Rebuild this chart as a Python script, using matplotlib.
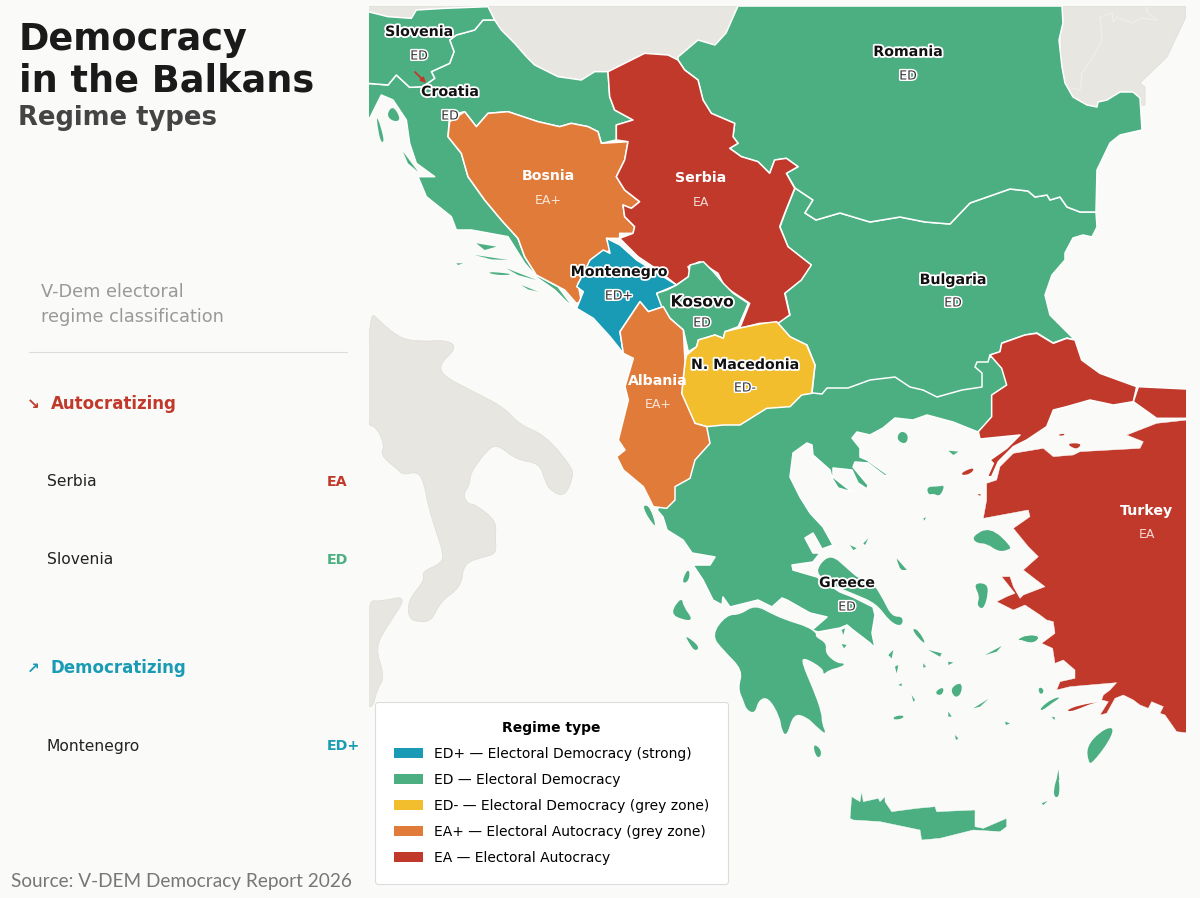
import matplotlib
matplotlib.use("Agg")
import matplotlib.pyplot as plt
import matplotlib.patheffects as pe
from matplotlib.patches import Patch, PathPatch, Polygon, Rectangle
from matplotlib.path import Path

# ---- colours by regime
REGIME_CODES = ["ED+", "ED", "ED-", "EA+", "EA"]
REGIME_NAMES = ["Electoral Democracy (strong)", "Electoral Democracy", "Electoral Democracy (grey zone)",
                "Electoral Autocracy (grey zone)", "Electoral Autocracy"]
REGIME_COLORS = ["#1A9BB5", "#4CAF82", "#F2BE2E", "#E07B39", "#C0392B"]
COLOR = dict(zip(REGIME_CODES, REGIME_COLORS))
BG = "#FAFAF8"
GREY = "#E8E6E1"

# ---- country labels: name, regime, label position on the map
countries = ["Slovenia", "Croatia", "Romania", "Bosnia", "Serbia", "Montenegro", "Kosovo", "Bulgaria",
             "N. Macedonia", "Albania", "Greece", "Turkey"]
regimes = ["ED", "ED", "ED", "EA+", "EA", "ED+", "ED", "ED", "ED-", "EA+", "ED", "EA"]
label_x = [419, 450, 908, 548, 701, 619, 702, 953, 745, 658, 847, 1147]
label_y = [32, 92, 52, 176, 178, 272, 302, 280, 365, 381, 583, 511]
tag_y = [56, 116, 76, 200, 202, 296, 323, 303, 388, 404, 607, 535]

# ---- outlines, in picture pixels or in pixel frames of an enlarged view
Z1 = (368, 0); Z2 = (560, 230); Z3 = (780, 320); Z4 = (640, 500); Z7 = (360, 300); Z8 = (1020, 600)

slovenia = [(0,35),(60,50),(130,55),(145,30),(230,25),(360,20),(380,60),(345,60),(320,90),(265,105),(245,120),(258,155),
            (245,190),(190,215),(200,235),(165,260),(125,262),(85,225),(60,255),(0,250)]
croatia = [(-5,250),(60,255),(85,225),(125,262),(165,260),(200,235),(190,215),(245,190),(258,155),(245,120),(265,105),(320,90),
           (345,60),(380,60),(400,90),(440,130),(475,170),(500,195),(570,230),(640,240),(680,215),(720,215),(725,290),(740,330),
           (795,360),(745,375),(745,420),(700,430),(690,395),(660,380),(610,370),(575,380),(510,365),(420,335),(360,340),(325,380),
           (290,335),(245,345),(240,410),(280,460),(300,530),(350,600),(400,660),(450,715),(470,770),(505,825),(570,860),(600,900),
           (622,925),(595,905),(560,870),(510,835),(470,790),(420,710),(310,690),(265,690),(250,650),(175,590),(150,530),(200,530),
           (145,490),(125,430),(115,360),(75,300),(40,285),(5,355),(-5,355)]
bosnia = [(290,335),(325,380),(360,340),(420,335),(510,365),(575,380),(610,370),(660,380),(690,395),(700,430),(780,425),(770,480),
          (745,530),(770,570),(815,605),(790,625),(765,615),(770,650),(800,680),(795,700),(755,700),(755,715),(715,715),(730,750),
          (680,770),(660,810),(630,850),(640,905),(625,910),(590,870),(505,825),(470,770),(450,715),(400,660),(350,600),(300,530),
          (280,460),(240,410),(245,365)]
serbia_east = [(720,215),(770,190),(830,160),(900,165),(930,180),(950,210),(990,240),(1005,300),(1030,340),(1100,370),(1095,410),
               (1110,430),(1085,445),(1120,470),(1170,485),(1205,520),(1220,480),(1255,475),(1290,500),(1255,520),(1280,565)]
serbia_rest = [(1250,640),(1235,680),(1260,740),(1330,795),(1300,840),(1250,880),(1265,945),(1230,970),(1175,970),(1115,985),(1145,910),(1070,860),
               (1050,820),(995,785),(960,800),(970,825),(925,855),(870,810),(810,770),(755,715),(795,700),(800,680),(770,650),(765,615),
               (790,625),(815,605),(770,570),(745,530),(770,480),(780,425),(745,420),(745,375),(795,360),(740,330),(725,290)]
montenegro = [(140,25),(180,45),(230,90),(350,165),(290,190),(310,230),(265,245),(240,215),(180,305),(190,370),(150,320),(100,265),
              (50,235),(70,185),(50,170),(90,90),(130,60),(150,70)]
kosovo = [(350,165),(385,140),(390,105),(430,95),(460,125),(490,160),(520,190),(565,220),(535,290),(495,305),(490,325),(465,315),
          (415,330),(410,350),(385,365),(370,300),(330,265),(305,230),(290,190),(320,180)]
macedonia = [(380,375),(410,350),(415,330),(465,315),(490,325),(495,305),(535,295),(610,280),(650,275),(690,320),(740,345),(765,405),
             (755,490),(725,495),(690,530),(620,535),(540,585),(490,585),(440,590),(405,580),(370,510),(365,490),(375,395)]
albania = [(240,215),(265,245),(310,230),(330,265),(370,300),(375,395),(365,490),(405,580),(440,590),(450,640),(405,690),(390,745),
           (345,770),(345,810),(320,835),(280,830),(250,770),(190,720),(170,680),(195,660),(175,630),(205,510),(195,470),(220,385),
           (190,370),(180,305)]
romania = [(738,6),(1062,6),(1063,23),(1059,40),(1062,67),(1065,83),(1073,97),(1087,105),(1097,107),(1098,102),(1107,100),(1120,92),
           (1133,92),(1140,98),(1142,130),(1120,135),(1110,143),(1097,170),(1096,212),(1080,212),(1067,207),(1060,197),(1050,200),
           (1047,195),(1035,197),(1028,191),(1010,189),(970,203),(950,224),(925,222),(900,217),(870,222),(840,213),(816,220),(805,213),
           (813,200),(795,188)]
romania_west = [(678,57),(698,40),(715,45),(726,33)]
bulgaria = [(795,188),(813,200),(805,213),(816,220),(840,213),(870,222),(900,217),(925,222),(950,224),(970,203),(1010,189),(1028,191),
            (1035,197),(1047,195),(1050,200),(1060,197),(1067,207),(1080,212),(1096,212),(1097,227),(1092,237),(1083,235),(1073,238),
            (1065,253),(1065,260),(1052,275),(1045,295),(1050,315),(1075,340),(1067,338),(1053,343),(1037,333),(1025,335),(1002,343),
            (1000,352),(990,355),(988,362),(977,362),(975,367),(982,373),(982,387),(962,390),(937,397),(923,390),(910,387),(895,377),
            (870,380),(848,388),(827,388),(822,394),(813,393),(812,393),(815,365),(807,345),(790,337),(777,322),(790,315),(785,293),
            (801,280),(811,265),(788,247),(780,227),(785,213)]
greece = [(700,440),(715,400),(810,380),(860,375),(980,355),(1005,360),(1010,400),(990,420),(978,432),(953,422),(927,415),(913,420),
          (895,418),(883,428),(870,435),(857,432),(852,438),(860,448),(860,457),(867,460),(888,475),(885,476),(868,463),(855,462),
          (853,467),(868,485),(867,489),(858,483),(852,470),(833,468),(833,477),(852,492),(838,488),(832,478),(830,470),(813,455),
          (812,445),(807,443),(793,453),(790,477),(800,497),(810,513),(823,527),(833,545),(822,549),(813,533),(805,538),(813,553),
          (820,553),(813,562),(792,565),(793,570),(817,577),(840,592),(853,597),(873,607),(875,615),(872,633),(875,648),(870,643),
          (853,630),(847,625),(840,628),(818,632),(812,630),(827,617),(810,613),(787,600),(782,598),(772,607),(758,600),(730,607),
          (723,597),(722,605),(713,600),(703,580),(693,565),(710,565),(715,557),(692,553),(683,540),(667,530),(663,517),(657,510),
          (670,490),(690,470)]
peloponnese = [(215,405),(260,345),(300,345),(345,315),(400,345),(450,365),(500,380),(530,400),(525,410),(560,430),(555,460),(590,490),
               (615,490),(605,500),(565,510),(550,525),(550,505),(490,470),(485,490),(520,570),(545,640),(545,670),(560,705),(530,680),
               (500,650),(460,640),(440,710),(425,690),(420,650),(385,590),(355,600),(345,640),(320,630),(310,600),(295,565),(310,510),(250,450)]
euboea = [(540,190),(575,165),(620,205),(660,240),(700,250),(730,300),(755,350),(790,350),(785,380),(750,365),(710,310),(640,280),(590,260),(530,225)]
crete = [(630,955),(635,890),(660,905),(665,875),(670,905),(715,895),(720,905),(735,890),(735,905),(755,935),(830,925),(885,920),(890,935),
         (1005,930),(1005,980),(1030,985),(1100,955),(1100,980),(1080,995),(1000,990),(900,1015),(845,1020),(840,990),(720,965),(640,960)]
turkey_europe = [(885,60),(905,120),(960,160),(1070,200),(1060,245),(1000,255),(930,240),(860,260),(820,270),(800,320),(740,360),(700,380),
                 (655,425),(635,470),(622,470),(640,430),(630,420),(680,385),(720,345),(600,357),(595,335),(635,290),(635,225),(680,195),
                 (665,145),(630,105),(660,95),(665,70),(735,45),(770,40),(820,70),(860,55)]
turkey_north = [(1075,200),(1240,208),(1240,295),(1130,295),(1060,245)]
turkey_asia_w = [(1240,298),(1130,310),(1040,345),(1090,365),(1080,385),(900,395),(880,405),(820,410),(790,385),(700,400),(660,440),(650,480),
                 (620,490),(620,540),(610,595),(745,570),(750,590),(700,625),(745,680),(775,710),(730,750),(795,800),(730,825),(720,835),
                 (700,800),(690,770),(665,770),(705,820),(680,830),(650,845),(700,870),(735,855),(780,885),(800,900)]
turkey_asia_s = [(100,65),(105,100),(65,130),(98,145),(105,190),(130,180),(165,210),(165,235),(120,245),(110,270),(150,260),(290,248),(270,270),
                 (250,285),(245,300),(265,305),(240,345),(260,340),(285,295),(310,285),(340,300),(360,315),(385,325),(395,305),(430,320),
                 (420,340),(435,345),(470,395),(540,403),(540,-300)]
datca = [(140,330),(180,315),(245,305),(215,310),(180,325),(150,335)]
red_isles_z3 = [[(830,345),(855,340),(850,348)], [(860,370),(905,370),(895,385),(880,385)], [(540,460),(580,442),(580,455),(555,467)],
                [(590,523),(602,522),(603,528)]]
green_isles_z1 = [[(55,345),(75,315),(100,360),(75,365)], [(25,340),(50,420),(40,430),(30,390)], [(105,455),(150,515),(120,490)],
                  [(325,730),(385,740),(350,750)], [(320,765),(420,780),(370,778)], [(265,790),(285,790),(270,795)],
                  [(355,815),(420,820),(430,825),(380,825)], [(415,805),(505,840),(450,825)], [(460,855),(510,875),(480,868)]]
green_isles_z3 = [[(350,350),(365,332),(385,345),(380,370),(360,368)], [(505,392),(535,395),(520,405)],
                  [(440,500),(475,500),(495,495),(480,530),(460,520),(445,525)], [(350,715),(380,750),(365,750)],
                  [(430,595),(438,592),(433,602)]]
green_isles_z4 = [[(10,15),(30,20),(50,85),(30,60),(15,35)], [(125,250),(140,210),(150,215),(145,245)],
                  [(90,340),(125,290),(130,320),(160,360),(130,360)], [(135,405),(180,440),(165,455),(145,425)],
                  [(520,730),(545,750),(540,775),(525,765)], [(1240,870),(1255,820),(1260,885),(1245,895)],
                  [(815,385),(835,390),(860,435),(835,415)], [(865,450),(905,460),(900,470)], [(745,465),(760,450),(755,475)],
                  [(930,565),(965,545),(965,580),(945,595)], [(885,575),(910,560),(910,580),(895,587)],
                  [(760,650),(790,645),(790,655),(762,660)], [(1000,625),(1045,597),(1020,620)],
                  [(1130,420),(1160,405),(1200,410),(1180,430),(1150,420)], [(1035,465),(1085,438),(1070,455)],
                  [(1000,250),(1040,250),(1045,280),(1030,330),(1010,315),(1020,290)],
                  [(995,110),(1050,80),(1115,140),(1105,150),(1075,155),(1040,130),(1010,130)],
                  [(630,135),(650,145),(640,150)], [(670,130),(685,115),(675,135)], [(605,390),(615,385),(610,405)],
                  [(605,432),(620,435),(612,445)], [(925,635),(935,650),(925,650)], [(775,555),(785,550),(785,558)],
                  [(765,500),(775,495),(770,520)], [(850,490),(858,500),(850,503)], [(925,485),(940,488),(925,495)],
                  [(815,585),(825,600),(820,605)], [(1095,665),(1110,670),(1098,675)], [(945,705),(955,715),(948,720)],
                  [(1205,910),(1222,903),(1210,915)], [(770,178),(800,210),(780,205)]]
green_isles_z8 = [[(0,115),(30,105),(60,110),(40,128),(15,125)], [(55,262),(70,265),(70,280),(58,282)],
                  [(60,325),(95,297),(125,290),(95,310),(65,333)], [(95,350),(105,352),(103,360)],
                  [(200,440),(240,395),(282,378),(270,420),(215,492),(205,485)], [(110,540),(115,508),(118,540)]]
italy = [(27,30),(60,65),(120,115),(180,125),(265,120),(290,145),(240,190),(245,225),(330,270),(430,320),(480,375),(555,405),(635,500),(640,530),
         (615,590),(575,575),(555,545),(540,490),(470,480),(415,435),(385,445),(330,520),(330,555),(310,580),(320,610),(350,615),(410,665),
         (405,710),(410,760),(375,770),(310,790),(305,860),(240,905),(215,965),(165,965),(145,950),(145,900),(195,840),(185,815),(245,790),
         (250,760),(230,700),(205,620),(190,540),(170,515),(130,525),(115,510),(60,465),(75,435),(45,375),(20,380)]
sicily = [(20,900),(60,905),(145,885),(80,980),(45,1045),(75,1130),(50,1170),(40,1220),(20,1220)]
north_grey = [(360,6),(738,6),(726,33),(715,45),(698,40),(680,70),(645,90),(608,90),(560,95),(490,45),(470,30),(360,30)]
east_grey = [(1062,6),(1186,6),(1186,17),(1167,57),(1140,83),(1145,87),(1145,105),(1060,110)]
moldova_line = [(1112,13),(1100,17),(1102,40),(1093,57),(1082,73),(1080,90),(1072,88)]
ukraine_line = [(1112,13),(1113,22),(1117,17),(1132,23),(1142,18),(1157,20),(1147,12),(1147,6)]

# ---- side panel
panel_groups = ["Autocratizing", "Democratizing"]
panel_arrows = ["↘", "↗"]
panel_colors = ["#C0392B", "#1A9BB5"]
panel_rows = [("Serbia", "EA"), ("Slovenia", "ED"), ("Montenegro", "ED+")]

def xy(frame, pts):
    """Enlarged-view pixels (3x) to picture pixels."""
    return [(frame[0] + x / 3, frame[1] + y / 3) for x, y in pts]

fig = plt.figure(figsize=(12, 8.98), dpi=100, facecolor=BG)
ax = fig.add_axes([0, 0, 1, 1])
ax.set_xlim(0, 1200)
ax.set_ylim(898, 0)
ax.axis("off")
clip = Rectangle((369, 6), 817, 892, transform=ax.transData)

def shape(pts, color, edge="white", lw=1.1, z=2):
    p = Polygon(pts, closed=True, facecolor=color, edgecolor=edge, linewidth=lw, joinstyle="round", zorder=z)
    ax.add_patch(p)
    p.set_clip_path(clip)
    return p

def soft(pts, color, edge="none", lw=0, z=2):
    """Rounded outline: each read vertex is a quadratic control point of the closed path."""
    n = len(pts)
    mids = [((pts[i][0] + pts[(i + 1) % n][0]) / 2, (pts[i][1] + pts[(i + 1) % n][1]) / 2) for i in range(n)]
    verts = [mids[-1]]
    codes = [Path.MOVETO]
    for i in range(n):
        verts += [pts[i], mids[i]]
        codes += [Path.CURVE3, Path.CURVE3]
    p = PathPatch(Path(verts, codes), facecolor=color, edgecolor=edge, linewidth=lw, zorder=z)
    ax.add_patch(p)
    p.set_clip_path(clip)
    return p

# neighbours
for pts in (north_grey, east_grey):
    shape(pts, GREY, edge="#DEDCD6", lw=0.5, z=1)
for pts in (xy(Z7, italy), xy(Z7, sicily)):
    soft(pts, GREY, edge="#DEDCD6", lw=0.5, z=1)
for line in (moldova_line, ukraine_line):
    xs, ys = zip(*line)
    ax.plot(xs, ys, color="#F0EFEB", lw=0.8, zorder=1.5)

G, R, O, B, Y = COLOR["ED"], COLOR["EA"], COLOR["EA+"], COLOR["ED+"], COLOR["ED-"]
shape(greece, G)
soft(xy(Z4, peloponnese), G)
soft(xy(Z4, euboea), G)
shape(xy(Z4, crete), G, lw=0.3)
shape(bulgaria, G)
shape(romania + xy(Z1, serbia_east[::-1][1:-4]) + romania_west, G)
shape(xy(Z1, croatia), G)
shape(xy(Z1, slovenia), G)
shape(xy(Z1, bosnia), O)
shape(xy(Z1, serbia_east + serbia_rest), R)
shape(xy(Z2, montenegro), B)
shape(xy(Z2, kosovo), G)
shape(xy(Z2, macedonia), Y)
shape(xy(Z2, albania), O)
shape(xy(Z3, turkey_europe), R)
shape(xy(Z3, turkey_north), R)
shape(xy(Z3, turkey_asia_w) + xy(Z8, turkey_asia_s), R, lw=0.3)
soft(xy(Z8, datca), R)
for isle in red_isles_z3:
    soft(xy(Z3, isle), R)
for frame, isles in ((Z1, green_isles_z1), (Z3, green_isles_z3), (Z4, green_isles_z4), (Z8, green_isles_z8)):
    for isle in isles:
        (soft if len(isle) > 3 else shape)(xy(frame, isle), G, *(("none", 0) if len(isle) > 3 else ("none", 0)))

# map labels
halo = [pe.withStroke(linewidth=2.6, foreground="white")]
for name, reg, x, y, ty in zip(countries, regimes, label_x, label_y, tag_y):
    light = reg in ("EA", "EA+")
    size = 11.2 if name == "Kosovo" else 10.2
    ax.text(x, y, name, ha="center", va="center", fontsize=size, fontweight="bold",
            color="white" if light else "#111111", path_effects=None if light else halo, zorder=5)
    ax.text(x, ty, reg, ha="center", va="center", fontsize=9,
            color="#FFFFFF" if light else "#333333", alpha=0.8 if light else 1,
            path_effects=None if light else [pe.withStroke(linewidth=2.2, foreground="white")], zorder=5)
ax.annotate("", xy=(426, 83), xytext=(415, 72), zorder=5,
            arrowprops=dict(arrowstyle="-|>", color=COLOR["EA"], lw=1.3, mutation_scale=7, shrinkA=0, shrinkB=0))

# title and panel
ax.text(19, 50, "Democracy", fontsize=26.4, fontweight="bold", color="#1A1A1A", va="baseline")
ax.text(19, 92, "in the Balkans", fontsize=26.4, fontweight="bold", color="#1A1A1A", va="baseline")
ax.text(18, 125, "Regime types", fontsize=18.6, fontweight="bold", color="#444444", va="baseline")
ax.text(41, 292, "V-Dem electoral", fontsize=12.8, color="#999999", va="center")
ax.text(41, 317, "regime classification", fontsize=12.8, color="#999999", va="center")
ax.plot([29, 347], [351.5, 351.5], color="#DDDDDD", lw=0.8)

for group, arrow, col, y in zip(panel_groups, panel_arrows, panel_colors, [404, 668]):
    ax.text(33, y, arrow, fontsize=11, fontweight="bold", color=col, ha="center", va="center")
    ax.text(51, y, group, fontsize=12, fontweight="bold", color=col, va="center")
for (name, reg), y in zip(panel_rows, [482, 560, 746]):
    ax.text(47, y, name, fontsize=11.2, color="#222222", va="center")
    ax.text(327, y, reg, fontsize=10.3, fontweight="bold", color=COLOR[reg], va="center")
ax.text(11, 881, "Source: V-DEM Democracy Report 2026", fontsize=13.7, family="Lato", color="#777777", va="center")

# legend
handles = [Patch(facecolor=c, edgecolor="none", label=f"{k} — {n}") for k, n, c in zip(REGIME_CODES, REGIME_NAMES, REGIME_COLORS)]
leg = ax.legend(handles=handles, title="Regime type", loc="lower left", bbox_to_anchor=(375, 884), bbox_transform=ax.transData,
                borderaxespad=0, borderpad=1.37, fontsize=10, labelspacing=0.87, handlelength=2.1, handletextpad=0.79,
                frameon=True, facecolor="white", edgecolor="#DDDDDD", framealpha=1, fancybox=True,
                title_fontproperties={"weight": "bold", "size": 10})
leg.get_frame().set_linewidth(0.8)
leg.set_zorder(6)
leg.get_frame().set_boxstyle("round", pad=0, rounding_size=0.25)

fig.savefig("out.png", dpi=100, facecolor=BG)
